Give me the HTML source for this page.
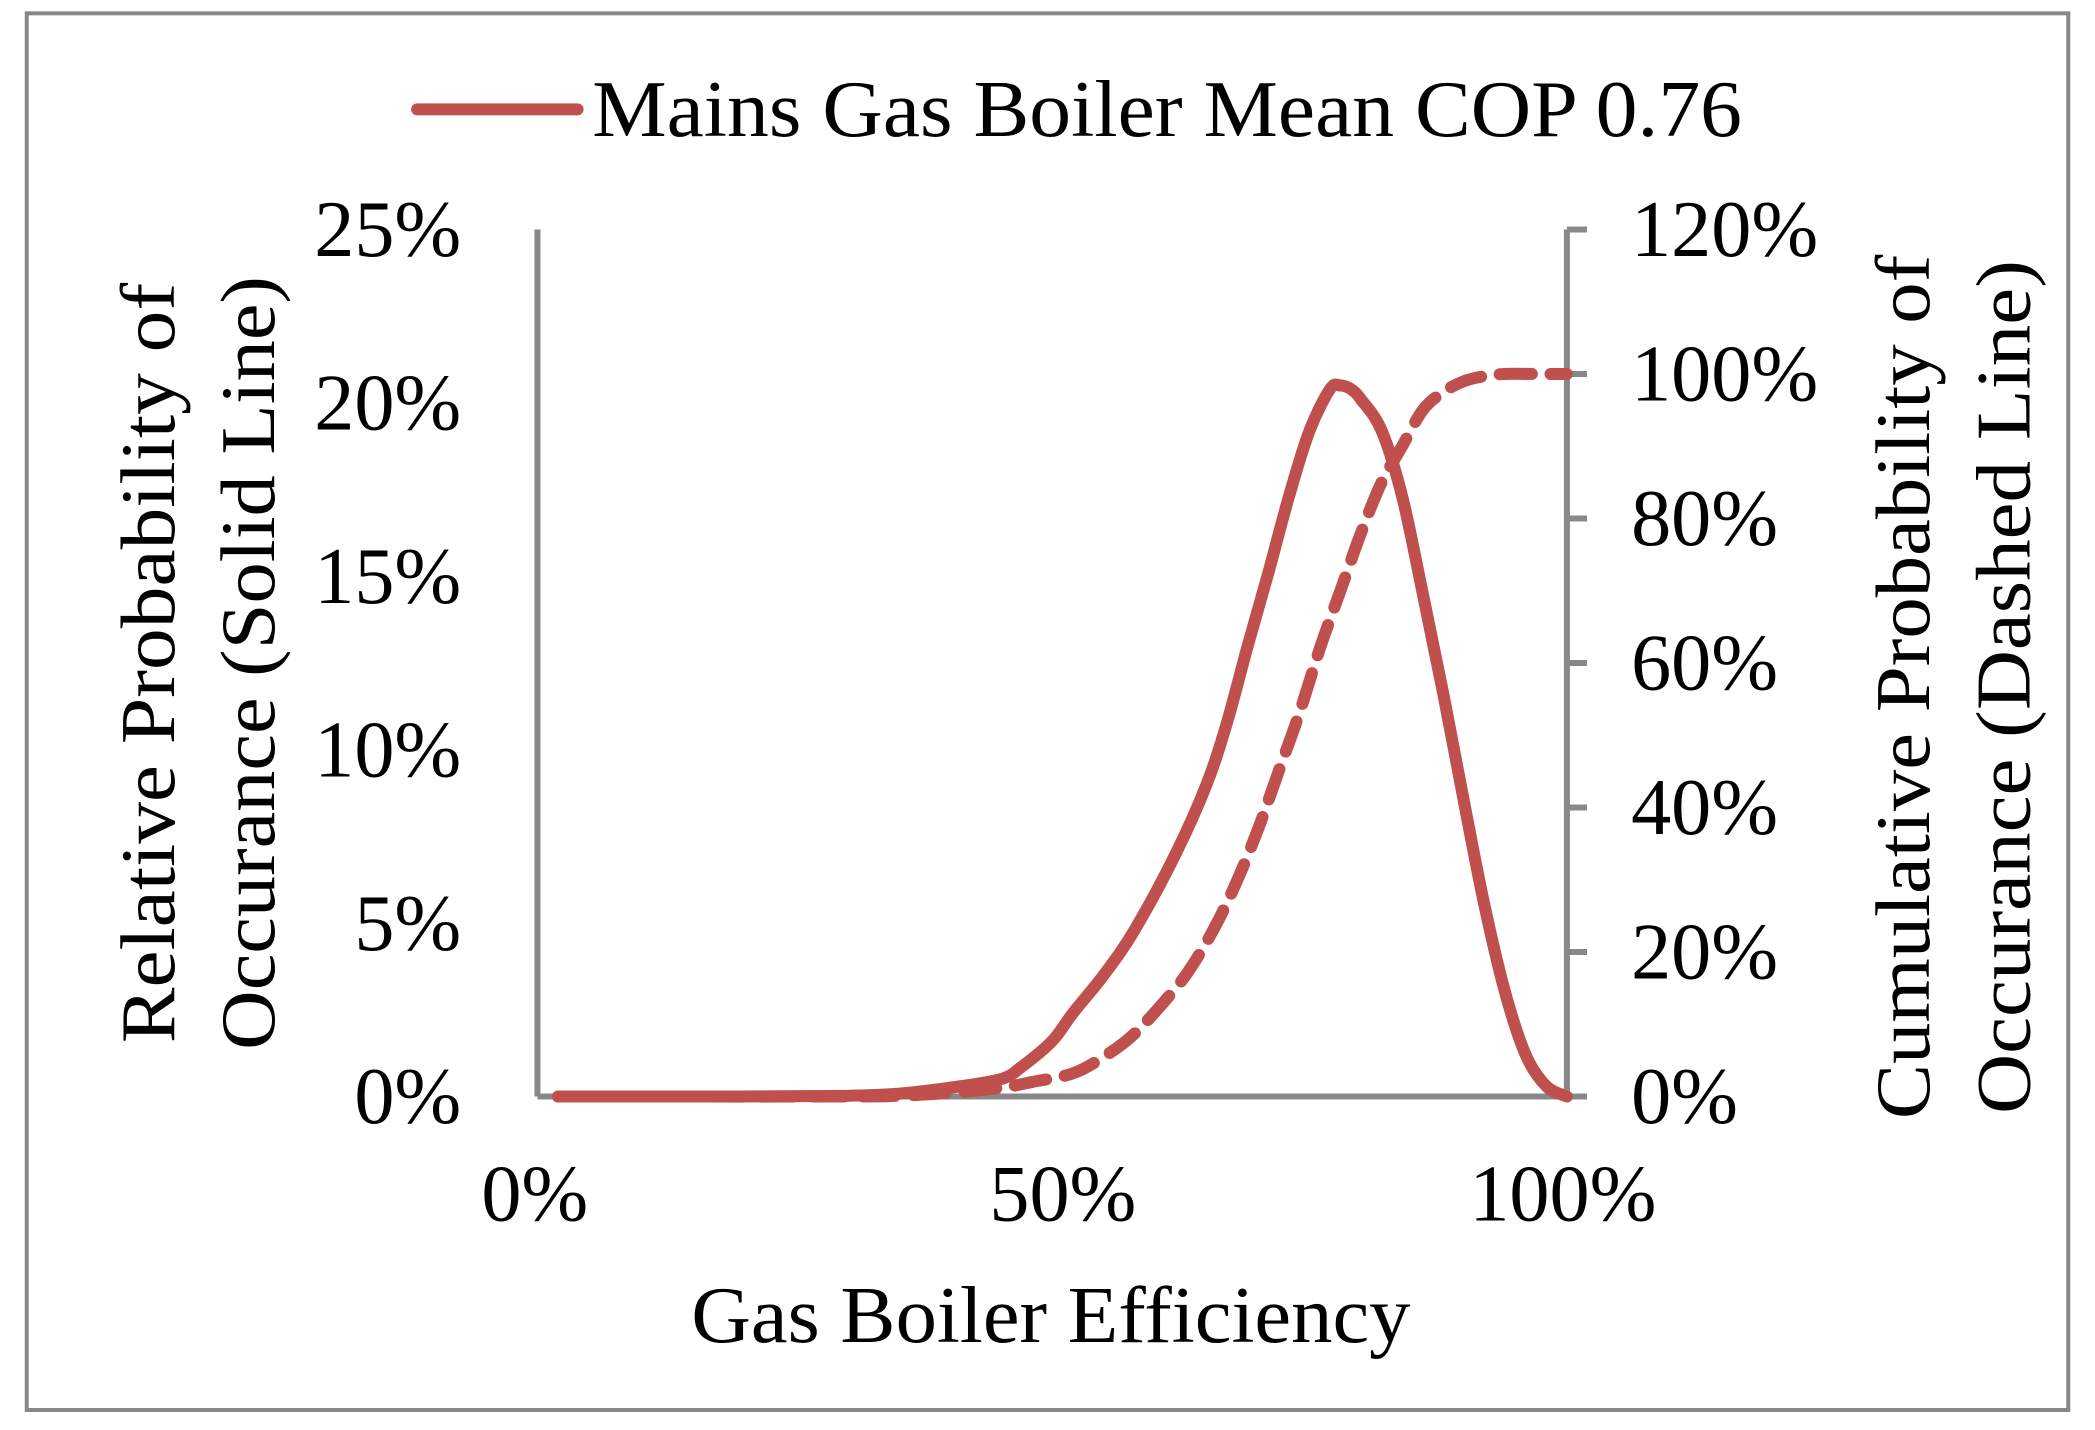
<!DOCTYPE html>
<html><head><meta charset="utf-8"><style>
html,body{margin:0;padding:0;background:#fff;}
svg{display:block;}
text{font-family:"Liberation Serif",serif;fill:#000;}
</style></head><body>
<svg width="2095" height="1430" viewBox="0 0 1567 1072" preserveAspectRatio="none">
<rect x="20" y="10" width="1527" height="1047" fill="#fff" stroke="#888" stroke-width="3"/>
<g id="axes"></g>
<g id="series"></g>
<g>
<line x1="312" y1="82" x2="432" y2="82" stroke="#c0504d" stroke-width="9" stroke-linecap="round"/>
<text x="443" y="102" font-size="60" textLength="860" lengthAdjust="spacingAndGlyphs">Mains Gas Boiler Mean COP 0.76</text>
</g>
<text x="786" y="1006" font-size="60" text-anchor="middle" textLength="538" lengthAdjust="spacingAndGlyphs">Gas Boiler Efficiency</text>
<g transform="translate(130,497) rotate(-90)">
<text x="0" y="0" font-size="58" text-anchor="middle" textLength="570" lengthAdjust="spacingAndGlyphs">Relative Probability of</text>
<text x="0" y="75" font-size="58" text-anchor="middle" textLength="580" lengthAdjust="spacingAndGlyphs">Occurance (Solid Line)</text>
</g>
<g transform="translate(1443,515) rotate(-90)">
<text x="0" y="0" font-size="58" text-anchor="middle" textLength="648" lengthAdjust="spacingAndGlyphs">Cumulative Probability of</text>
<text x="0" y="75" font-size="58" text-anchor="middle" textLength="640" lengthAdjust="spacingAndGlyphs">Occurance (Dashed Line)</text>
</g>
</svg>
<script>
const xTicks=[0,50,100];
const xTickLabels=["0%","50%","100%"];
const leftTicks=[0,5,10,15,20,25];
const leftTickLabels=["0%","5%","10%","15%","20%","25%"];
const rightTicks=[0,20,40,60,80,100,120];
const rightTickLabels=["0%","20%","40%","60%","80%","100%","120%"];
const pdfX=[2,20,30,35,40,45,47,50,52,55,58,62,65,67,69,71,73,75,77,78,79,80,82,84,86,88,90,92,94,96,98,100];
const pdfY=[0,0,0.02,0.08,0.25,0.5,0.85,1.6,2.4,3.5,4.8,7,9,10.8,13,15.1,17.3,19.2,20.4,20.5,20.4,20.1,19.2,17.3,14.5,11.6,8.5,5.5,3,1.2,0.3,0];
const cdfX=[2,30,35,40,45,48,52,55,58,62,64,66,68,70,72,74,76,78,80,82,84,86,88,90,92,94,97,100];
const cdfY=[0,0,0.1,0.5,1.2,2,3.2,5.5,8.7,15,19,24,30,37,45,53,62,70,78,85,90,95,97.5,99,99.7,100,100,100];
const X0=402,X1=1172,YB=822,YT=172;
const xs=v=>X0+(X1-X0)*v/100;
const yl=v=>YB-(YB-YT)*v/25;
const yr=v=>YB-(YB-YT)*v/120;
const NS="http://www.w3.org/2000/svg";
const axes=document.getElementById('axes');
const series=document.getElementById('series');
function mk(tag,attrs,parent){const e=document.createElementNS(NS,tag);for(const k in attrs)e.setAttribute(k,attrs[k]);parent.appendChild(e);return e;}
let e;
e=mk('line',{x1:X0,y1:YT,x2:X0,y2:YB,stroke:'#888','stroke-width':4.5},axes);


e=mk('line',{x1:X1,y1:YT,x2:X1,y2:YB,stroke:'#888','stroke-width':4.5},axes);


e=mk('line',{x1:X0,y1:YB,x2:X1+15,y2:YB,stroke:'#888','stroke-width':4.5},axes);


rightTicks.forEach((v,i)=>{
  e=mk('line',{x1:X1,y1:yr(v),x2:X1+15,y2:yr(v),stroke:'#888','stroke-width':4.5},axes);
  
  
  e=mk('text',{x:1220,y:yr(v)+20,'font-size':60},axes);
  e.textContent=rightTickLabels[i];
  
  
});
leftTicks.forEach((v,i)=>{
  e=mk('text',{x:345,y:yl(v)+20,'font-size':60,'text-anchor':'end'},axes);
  e.textContent=leftTickLabels[i];
  
  
});
xTicks.forEach((v,i)=>{
  e=mk('text',{x:xs(v)+(i==0?-2:(i==1?8:-3)),y:915,'font-size':60,'text-anchor':'middle'},axes);
  e.textContent=xTickLabels[i];
  
  
});
function smooth(pts){
  let d='M'+pts[0][0]+','+pts[0][1];
  for(let i=0;i<pts.length-1;i++){
    const p0=pts[Math.max(0,i-1)],p1=pts[i],p2=pts[i+1],p3=pts[Math.min(pts.length-1,i+2)];
    const c1=[p1[0]+(p2[0]-p0[0])/6,p1[1]+(p2[1]-p0[1])/6];
    const c2=[p2[0]-(p3[0]-p1[0])/6,p2[1]-(p3[1]-p1[1])/6];
    d+=' C'+c1[0]+','+c1[1]+' '+c2[0]+','+c2[1]+' '+p2[0]+','+p2[1];
  }
  return d;
}
e=mk('path',{d:smooth(cdfX.map((x,i)=>[xs(x),yr(cdfY[i])])),fill:'none',stroke:'#c0504d','stroke-width':9,'stroke-dasharray':'24 14','stroke-linecap':'round'},series);


e=mk('path',{d:smooth(pdfX.map((x,i)=>[xs(x),yl(pdfY[i])])),fill:'none',stroke:'#c0504d','stroke-width':9,'stroke-linecap':'round','stroke-linejoin':'round'},series);


</script>
</body></html>
